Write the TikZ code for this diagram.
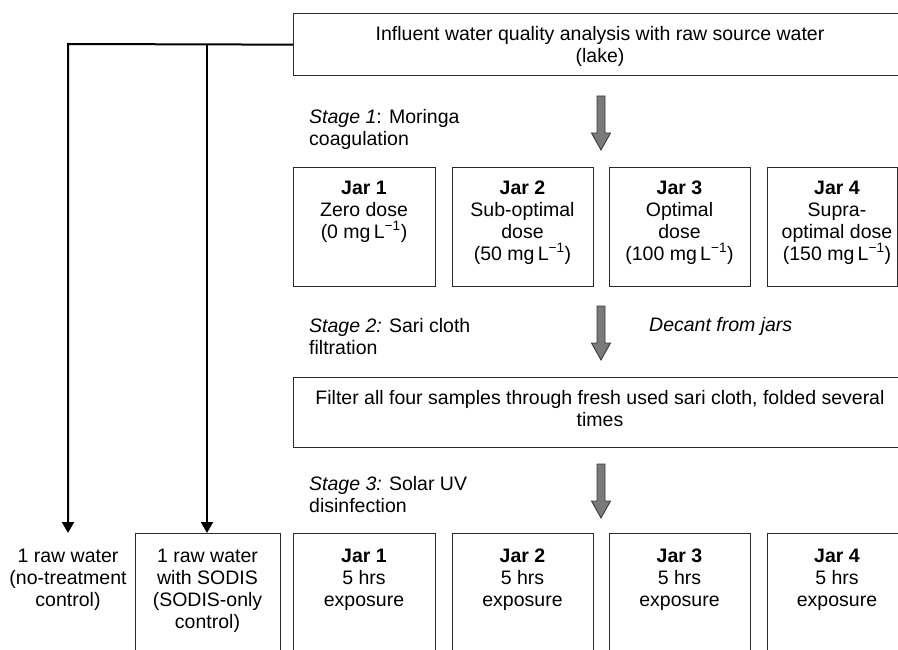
\documentclass[tikz,border=0pt]{standalone}
\usepackage{fontspec}
\setmainfont{Liberation Sans}
\usetikzlibrary{arrows.meta}
\definecolor{boxline}{HTML}{2A2A2A}
\definecolor{arrowfill}{HTML}{7A7A7A}
\definecolor{arrowline}{HTML}{3A3A3A}
\tikzset{
  box/.style={draw=boxline, line width=1.3pt, anchor=north west, inner sep=0pt},
  txt/.style={anchor=north, align=center, inner sep=0pt, font=\fontsize{19.5}{22}\selectfont},
  ltxt/.style={anchor=north west, align=left, inner sep=0pt, font=\fontsize{19.5}{22}\selectfont},
  conn/.style={line width=2pt, draw=black},
  connarrow/.style={conn, -{Triangle[width=12pt,length=11pt]}},
  blockarrow/.pic={\draw[fill=arrowfill, draw=arrowline, line width=0.9pt]
     (-4,0) -- (4,0) -- (4,37) -- (9.5,37) -- (0,54) -- (-9.5,37) -- (-4,37) -- cycle;}
}
\begin{document}
\begin{tikzpicture}[x=1pt, y=-1pt]
\fill[white] (0,0) rectangle (898,650);
\useasboundingbox (0,0) rectangle (898,650);

% top box
\node[box, minimum width=614pt, minimum height=62pt] (top) at (293,13) {};
\node[txt] (toptxt) at (600,24.6) {\strut Influent water quality analysis with raw source water\\(lake)};

% stage 1
\node[ltxt] (st1) at (309,107.6) {\strut\textit{Stage 1}: Moringa\\coagulation};
\pic at (601,96) {blockarrow};

\node[box, minimum width=142pt, minimum height=119pt] (a1) at (293,167) {};
\node[box, minimum width=141pt, minimum height=119pt] (a2) at (452,167) {};
\node[box, minimum width=141pt, minimum height=119pt] (a3) at (609,167) {};
\node[box, minimum width=130pt, minimum height=119pt] (a4) at (767,167) {};
\node[txt] (a1t) at (364,178.6) {\strut\textbf{Jar 1}\\Zero dose\\(0 mg\,L\textsuperscript{−1})};
\node[txt] (a2t) at (522.5,178.6) {\strut\textbf{Jar 2}\\Sub-optimal\\dose\\(50 mg\,L\textsuperscript{−1})};
\node[txt] (a3t) at (679.5,178.6) {\strut\textbf{Jar 3}\\Optimal\\dose\\(100 mg\,L\textsuperscript{−1})};
\node[txt] (a4t) at (837,178.6) {\strut\textbf{Jar 4}\\Supra-\\optimal dose\\(150 mg\,L\textsuperscript{−1})};

% stage 2
\node[ltxt] (st2) at (309,316.6) {\strut\textit{Stage 2:} Sari cloth\\filtration};
\node[ltxt] (decant) at (649,315.6) {\strut\textit{Decant from jars}};
\pic at (601,306) {blockarrow};

\node[box, minimum width=614pt, minimum height=70pt] (filter) at (293,377) {};
\node[txt] (filtertxt) at (600,388.6) {\strut Filter all four samples through fresh used sari cloth, folded several\\times};

% stage 3
\node[ltxt] (st3) at (309,474.6) {\strut\textit{Stage 3:} Solar UV\\disinfection};
\pic at (601,464) {blockarrow};

\node[box, minimum width=145pt, minimum height=127pt] (sodis) at (135,533) {};
\node[box, minimum width=142pt, minimum height=127pt] (b1) at (293,533) {};
\node[box, minimum width=141pt, minimum height=127pt] (b2) at (452,533) {};
\node[box, minimum width=141pt, minimum height=127pt] (b3) at (609,533) {};
\node[box, minimum width=142pt, minimum height=127pt] (b4) at (767,533) {};

\node[txt] (rawtxt) at (68,546.6) {\strut 1 raw water\\(no-treatment\\control)};
\node[txt] (sodistxt) at (207.5,546.6) {\strut 1 raw water\\with SODIS\\(SODIS-only\\control)};
\node[txt] (b1t) at (364,546.6) {\strut\textbf{Jar 1}\\5 hrs\\exposure};
\node[txt] (b2t) at (522.5,546.6) {\strut\textbf{Jar 2}\\5 hrs\\exposure};
\node[txt] (b3t) at (679.5,546.6) {\strut\textbf{Jar 3}\\5 hrs\\exposure};
\node[txt] (b4t) at (837,546.6) {\strut\textbf{Jar 4}\\5 hrs\\exposure};

% connectors
\coordinate (split1) at (68,44);
\coordinate (split2) at (207,44);
\coordinate (end1) at (68,533);
\draw[connarrow, line join=miter] (top.west) -- (split1) -- (end1);
\draw[connarrow] (split2) -- (split2 |- sodis.north);
\end{tikzpicture}
\end{document}
